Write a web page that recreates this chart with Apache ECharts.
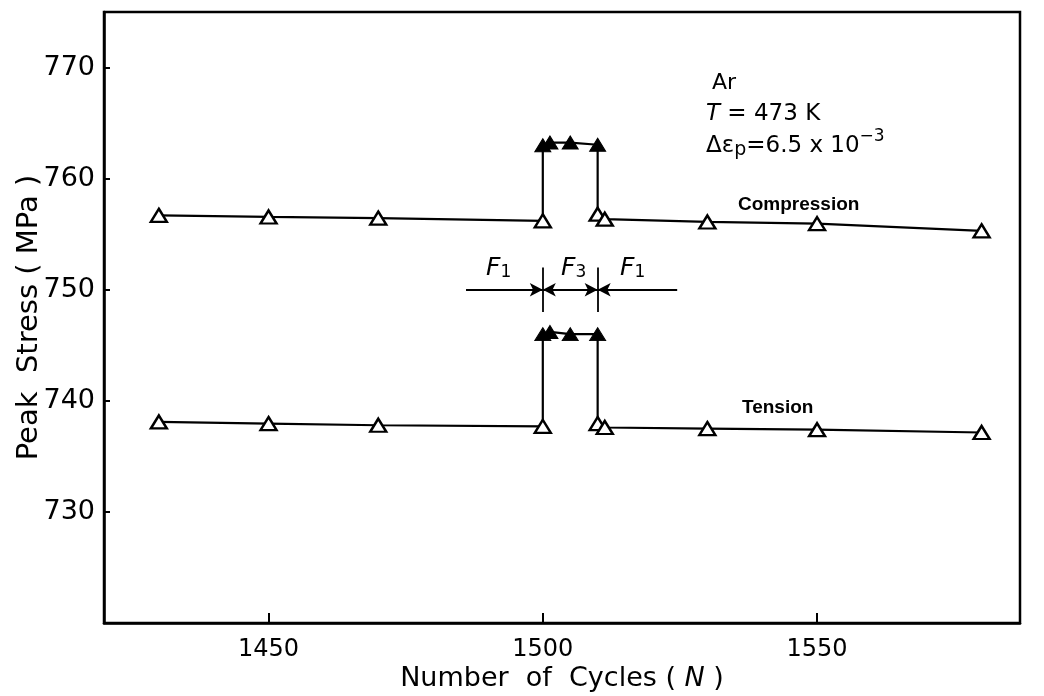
<!DOCTYPE html>
<html>
<head>
<meta charset="utf-8">
<script src="https://cdn.jsdelivr.net/npm/echarts@6/dist/echarts.min.js"></script>
<style>html,body{margin:0;padding:0;background:#fff}#c{width:1044px;height:696px}</style>
</head>
<body>
<div id="c"></div>
<script>
// ---- data ----
const cycles      = [1430, 1450, 1470, 1500, 1500, 1501.3, 1505, 1510, 1510, 1511.3, 1530, 1550, 1580];
const phase       = ['F1','F1','F1','F1','F3','F3','F3','F3','F1','F1','F1','F1','F1'];
const compression = [756.7, 756.55, 756.45, 756.2, 763.0, 763.25, 763.25, 763.05, 756.8, 756.35, 756.1, 755.95, 755.3];
const tension     = [738.1, 737.95, 737.8, 737.7, 746.0, 746.2, 746.0, 746.0, 737.95, 737.6, 737.5, 737.4, 737.15];
const xTicks = [1450, 1500, 1550];
const yTicks = [730, 740, 750, 760, 770];
const phaseBounds = [1500, 1510];      // F1 | F3 | F1 boundaries
const arrowY = 750;
const arrowSpan = [1486, 1524.5];

const FONT = 'DejaVu Sans';

function build(vals) {
  return cycles.map((c, i) => ({
    value: [c, vals[i]],
    itemStyle: phase[i] === 'F3'
      ? { color: '#000', borderColor: '#000', borderWidth: 1 }
      : { color: '#fff', borderColor: '#000', borderWidth: 2.4 }
  }));
}

const lineSeries = (name, vals) => ({
  name, type: 'line', data: build(vals),
  symbol: 'triangle', symbolSize: [16, 13],
  lineStyle: { color: '#000', width: 2.2 },
  animation: false, z: 3
});

const arrowMarks = {
  type: 'line', data: [], animation: false, silent: true,
  markLine: {
    silent: true, animation: false,
    label: { show: false },
    lineStyle: { color: '#000', width: 1.8, type: 'solid' },
    symbolSize: [10, 13],
    data: [
      [{ coord: [arrowSpan[0], arrowY], symbol: 'none' }, { coord: [phaseBounds[0], arrowY], symbol: 'arrow' }],
      [{ coord: [phaseBounds[0], arrowY], symbol: 'arrow' }, { coord: [phaseBounds[1], arrowY], symbol: 'arrow' }],
      [{ coord: [arrowSpan[1], arrowY], symbol: 'none' }, { coord: [phaseBounds[1], arrowY], symbol: 'arrow' }],
      [{ coord: [phaseBounds[0], arrowY - 2], symbol: 'none' }, { coord: [phaseBounds[0], arrowY + 2], symbol: 'none' }],
      [{ coord: [phaseBounds[1], arrowY - 2], symbol: 'none' }, { coord: [phaseBounds[1], arrowY + 2], symbol: 'none' }]
    ]
  }
};

const chart = echarts.init(document.getElementById('c'), null, { renderer: 'canvas' });
chart.setOption({
  backgroundColor: '#fff',
  animation: false,
  grid: { left: 104, right: 24, top: 12, bottom: 73, show: true, borderColor: '#000', borderWidth: 2.5,
    backgroundColor: 'transparent', containLabel: false, outerBoundsMode: 'none' },
  xAxis: {
    type: 'value', min: 1420, max: 1587,
    name: 'Number  of  Cycles ( {i|N} )', nameLocation: 'middle', nameGap: 42, nameMoveOverlap: false,
    nameTextStyle: { fontFamily: FONT, fontSize: 27, color: '#000',
      rich: { i: { fontFamily: FONT, fontStyle: 'italic', fontSize: 27, color: '#000' } } },
    axisLine: { show: true, lineStyle: { color: '#000', width: 2.5 } },
    axisTick: { show: true, inside: true, length: 10, lineStyle: { color: '#000', width: 2 }, customValues: xTicks },
    axisLabel: { fontFamily: FONT, fontSize: 24, color: '#000', margin: 15, customValues: xTicks,
      formatter: v => String(v) },
    splitLine: { show: false }
  },
  yAxis: {
    type: 'value', min: 720, max: 775,
    name: 'Peak  Stress ( MPa )', nameLocation: 'middle', nameGap: 60, nameMoveOverlap: false,
    nameTextStyle: { fontFamily: FONT, fontSize: 29, color: '#000' },
    axisLine: { show: true, lineStyle: { color: '#000', width: 2.5 } },
    axisTick: { show: true, inside: true, length: 6, lineStyle: { color: '#000', width: 2 }, customValues: yTicks },
    axisLabel: { fontFamily: FONT, fontSize: 27, color: '#000', margin: 9, customValues: yTicks,
      formatter: v => String(v) },
    splitLine: { show: false }
  },
  series: [lineSeries('Compression', compression), lineSeries('Tension', tension), arrowMarks],
  graphic: [
    { type: 'text', left: 712, top: 72, style: { text: 'Ar', font: '500 22px "DejaVu Sans"', fill: '#000' } },
    { type: 'text', left: 706, top: 103, style: {
      text: '{i|T} = 473 K', fill: '#000',
      rich: { i: { fontFamily: FONT, fontStyle: 'italic', fontSize: 23 } },
      font: '23px "DejaVu Sans"' } },
    { type: 'text', left: 706, top: 128, style: {
      text: 'Δε{s|p}=6.5 x 10{u|−3}', fill: '#000',
      rich: { s: { fontFamily: FONT, fontSize: 19, padding: [8, 0, 0, 0] }, u: { fontFamily: FONT, fontSize: 17, padding: [0, 0, 20, 0] } },
      font: '23px "DejaVu Sans"' } },
    { type: 'text', left: 738, top: 195, style: { text: 'Compression', font: 'bold 19px "Liberation Sans"', fill: '#000' } },
    { type: 'text', left: 742, top: 398, style: { text: 'Tension', font: 'bold 19px "Liberation Sans"', fill: '#000' } },
    { type: 'text', left: 486, top: 256, style: { text: 'F{s|1}', fill: '#000', font: 'italic 25px "DejaVu Sans"',
      rich: { s: { fontFamily: FONT, fontSize: 17, padding: [8, 0, 0, 0] } } } },
    { type: 'text', left: 561, top: 256, style: { text: 'F{s|3}', fill: '#000', font: 'italic 25px "DejaVu Sans"',
      rich: { s: { fontFamily: FONT, fontSize: 17, padding: [8, 0, 0, 0] } } } },
    { type: 'text', left: 620, top: 256, style: { text: 'F{s|1}', fill: '#000', font: 'italic 25px "DejaVu Sans"',
      rich: { s: { fontFamily: FONT, fontSize: 17, padding: [8, 0, 0, 0] } } } }
  ]
});
</script>
</body>
</html>
